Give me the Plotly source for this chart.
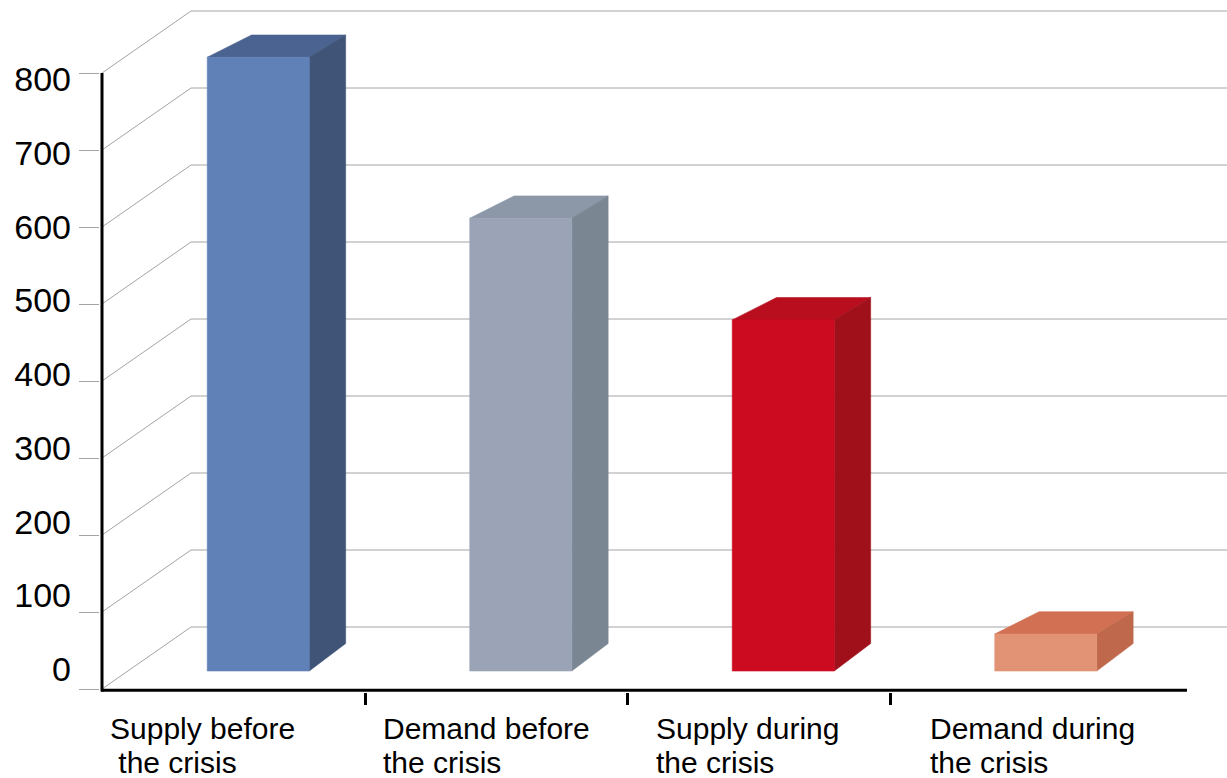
import plotly.graph_objects as go

# ---- data -------------------------------------------------------------
categories = [
    "Supply before<br>\u00a0the crisis",
    "Demand before<br>the crisis",
    "Supply during<br>the crisis",
    "Demand during<br>the crisis",
]
values = [797, 588, 456, 48]
y_ticks = [0, 100, 200, 300, 400, 500, 600, 700, 800]

# ---- styles -----------------------------------------------------------
front_colors = ["#6080b8", "#9aa4b6", "#cc0a20", "#e29375"]
top_colors = ["#4b6390", "#8c97a7", "#b80e1e", "#d27054"]
side_colors = ["#405478", "#7b8693", "#a0101b", "#bf684b"]
grid_color = "#a4a4a4"
font_family = "Liberation Sans, Arial, Helvetica, sans-serif"

# ---- geometry (pixels) --------------------------------------------------
W, H = 1227, 778
PLOT_L, PLOT_R, PLOT_T, PLOT_B = 100, 1227, 0, 692
PX_PER_UNIT = 0.77        # vertical scale of the value axis
ZERO_PX = 689             # value 0 on the front plane
SLOT_PX = 262.5           # width of one category slot
SLOT0_PX = 102.5          # left edge of the first slot

WALL_DX, WALL_DY = 89, 62           # depth of the floor / back wall
BAR_DX, BAR_DY = 24.5, 18           # bars sit a little into the depth
BAR_W = 102
TOP_DX_L, TOP_DX_R = 44.3, 36.4     # depth of the bar tops
TOP_DY, BASE_DY = 22.3, 27.5


def ux(px):
    return (px - SLOT0_PX) / SLOT_PX - 0.5


def vy(px):
    return (ZERO_PX - px) / PX_PER_UNIT


def du(d):
    return d / SLOT_PX


def dv(d):
    return d / PX_PER_UNIT


def paper_y(px):
    return (PLOT_B - px) / (PLOT_B - PLOT_T)


fig = go.Figure()


def poly(xs, ys, color):
    fig.add_trace(go.Scatter(
        x=xs + [xs[0]], y=ys + [ys[0]], mode="lines", fill="toself",
        fillcolor=color, line=dict(color=color, width=0.6),
        hoverinfo="skip", showlegend=False,
    ))


# ---- walls: gridlines on the back wall and their diagonals ---------------
x_front = ux(102)
gx, gy = [], []
for t in y_ticks:
    gx += [x_front, x_front + du(WALL_DX), ux(PLOT_R), None]
    gy += [t, t + dv(WALL_DY), t + dv(WALL_DY), None]
fig.add_trace(go.Scatter(x=gx, y=gy, mode="lines",
                         line=dict(color=grid_color, width=1),
                         hoverinfo="skip", showlegend=False))

# ---- bars -----------------------------------------------------------------
base = dv(BAR_DY)
for i, v in enumerate(values):
    c = ux(SLOT0_PX + SLOT_PX * (i + 0.5) + BAR_DX)
    xl, xr = c - du(BAR_W / 2), c + du(BAR_W / 2)
    y0, y1 = base, base + v
    # top face
    poly([xl, xr, xr + du(TOP_DX_R), xl + du(TOP_DX_L)],
         [y1, y1, y1 + dv(TOP_DY), y1 + dv(TOP_DY)], top_colors[i])
    # side face
    poly([xr, xr + du(TOP_DX_R), xr + du(TOP_DX_R), xr],
         [y1, y1 + dv(TOP_DY), y0 + dv(BASE_DY), y0], side_colors[i])
    # front face
    poly([xl, xr, xr, xl], [y0, y0, y1, y1], front_colors[i])

# ---- black axis lines -------------------------------------------------------
fig.add_trace(go.Scatter(
    x=[x_front, x_front, None, ux(101), ux(1187)],
    y=[y_ticks[-1], vy(691.5), None, vy(690.3), vy(690.3)],
    mode="lines", line=dict(color="#000000", width=3),
    hoverinfo="skip", showlegend=False))

# invisible trace that carries the labelled value axis
fig.add_trace(go.Scatter(x=[1.5], y=[0], yaxis="y2", mode="markers",
                         marker=dict(opacity=0), hoverinfo="skip",
                         showlegend=False))

# ---- category labels ----------------------------------------------------------
LABEL_X0, LABEL_STEP = 108.2, 273.1
LINE1_PX, LINE2_PX = 728, 762
for i, cat in enumerate(categories):
    lines = cat.split("<br>")
    for text, ypx in zip(lines, [LINE1_PX, LINE2_PX]):
        fig.add_annotation(
            x=ux(LABEL_X0 + LABEL_STEP * i), y=paper_y(ypx),
            xref="x", yref="paper",
            text=text, showarrow=False, xanchor="left", yanchor="middle",
            align="left", font=dict(family=font_family, size=30, color="#000"))

# ---- axes -----------------------------------------------------------------------
lab0_px, lab800_px = 669, 79.5
k2 = (lab0_px - lab800_px) / y_ticks[-1]
r1 = lab0_px / k2
r0 = r1 - (PLOT_B - PLOT_T) / k2

fig.update_layout(
    width=W, height=H,
    margin=dict(l=PLOT_L, r=W - PLOT_R, t=PLOT_T, b=H - PLOT_B, pad=0),
    paper_bgcolor="#ffffff", plot_bgcolor="#ffffff",
    font=dict(family=font_family, color="#000"),
    xaxis=dict(range=[ux(PLOT_L), ux(PLOT_R)], tickvals=[0.5, 1.5, 2.5],
               ticks="outside", ticklen=12, tickwidth=2.5, tickcolor="#000",
               showticklabels=False, showgrid=False, zeroline=False,
               showline=False, fixedrange=True),
    yaxis=dict(range=[vy(PLOT_B), vy(PLOT_T)], tickvals=y_ticks,
               ticks="outside", ticklen=20, tickwidth=1, tickcolor=grid_color,
               showticklabels=False, showgrid=False, zeroline=False,
               showline=False, fixedrange=True),
    yaxis2=dict(range=[r0, r1], overlaying="y", side="left", anchor="x",
                tickvals=y_ticks, ticks="", ticklabelstandoff=28,
                tickfont=dict(family=font_family, size=34, color="#000"),
                showgrid=False, zeroline=False, showline=False,
                fixedrange=True),
    showlegend=False,
)

fig.write_html("out.html", config={"displayModeBar": False})
